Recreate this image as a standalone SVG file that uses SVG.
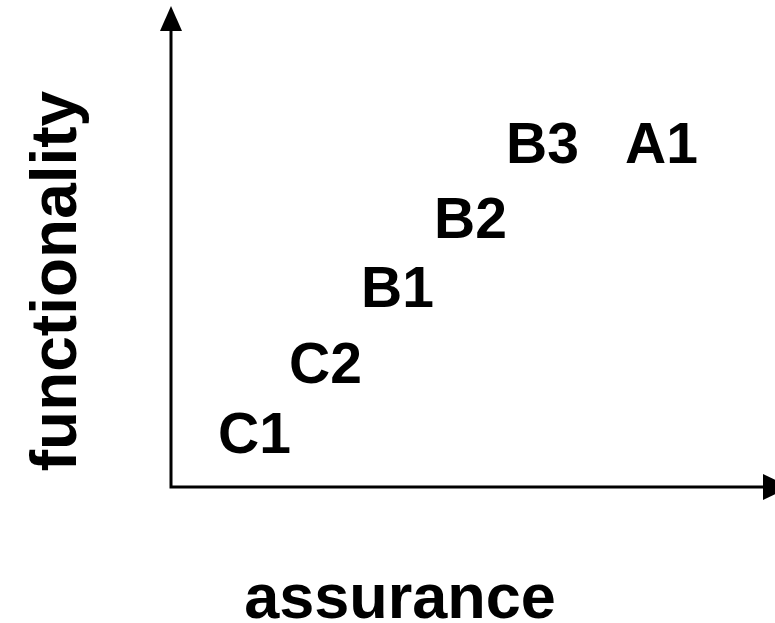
<svg xmlns="http://www.w3.org/2000/svg" width="775" height="623" viewBox="0 0 775 623">
<style>
text{font-family:"Liberation Sans",Arial,sans-serif;font-weight:bold;fill:#000}
.lbl{font-size:57px}
.ax{font-size:64px}
.axis{stroke:#000;stroke-width:3;fill:none}
</style>
<rect width="775" height="623" fill="#fff"/>
<g id="connectors">
<polyline class="axis" points="171,30 171,487 763,487"/>
<path d="M171,6 L160,31 L182,31 z" fill="#000"/>
<path d="M763,474 L790,487 L763,500 z" fill="#000"/>
</g>
<g id="y-axis-label"><text class="ax" transform="translate(76,281) rotate(-90)" text-anchor="middle">functionality</text></g>
<g id="x-axis-label"><text class="ax" x="400" y="618" text-anchor="middle" style="font-size:63px">assurance</text></g>
<g id="C1"><text class="lbl" x="218" y="453">C1</text></g>
<g id="C2"><text class="lbl" x="289" y="383">C2</text></g>
<g id="B1"><text class="lbl" x="361" y="307">B1</text></g>
<g id="B2"><text class="lbl" x="434" y="238">B2</text></g>
<g id="B3"><text class="lbl" x="506" y="163">B3</text></g>
<g id="A1"><text class="lbl" x="625" y="163">A1</text></g>
</svg>
